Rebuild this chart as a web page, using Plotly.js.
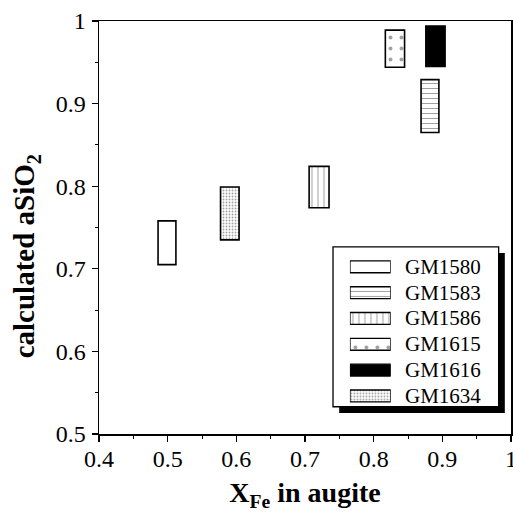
<!DOCTYPE html>
<html>
<head>
<meta charset="utf-8">
<script src="https://cdn.plot.ly/plotly-3.0.1.min.js"></script>
<style>html,body{margin:0;padding:0;background:#fff;}#chart{width:513px;height:512px;}</style>
</head>
<body>
<div id="chart"></div>
<script>
// Data (rectangle extents)
const samples = ['GM1580', 'GM1583', 'GM1586', 'GM1615', 'GM1616', 'GM1634'];
const xFeMin = [0.486, 0.869, 0.706, 0.817, 0.876, 0.577];
const xFeMax = [0.512, 0.895, 0.735, 0.845, 0.904, 0.604];
const aSiO2Min = [0.705, 0.865, 0.774, 0.944, 0.945, 0.735];
const aSiO2Max = [0.758, 0.929, 0.824, 0.989, 0.994, 0.799];
const xTicks = [0.4, 0.5, 0.6, 0.7, 0.8, 0.9, 1];
const yTicks = [0.5, 0.6, 0.7, 0.8, 0.9, 1];
const xTitle = 'X<sub>Fe</sub> in augite';
const yTitle = 'calculated aSiO<sub>2</sub>';

// Styles
const fillColors = ['white', 'white', 'white', 'white', 'black', 'white'];
const patShapes = ['', '-', '|', '.', '', '.'];
const patSizes = [8, 5, 6, 11, 8, 3];
const patSolid = [0.3, 0.2, 0.17, 0.1, 0.3, 0.3];
const patFg = ['black', '#222', '#222', 'black', 'black', '#999'];

const serif = '"Liberation Serif", "Times New Roman", serif';

const main = {
  type: 'bar',
  x: samples.map((s, i) => (xFeMin[i] + xFeMax[i]) / 2),
  width: samples.map((s, i) => xFeMax[i] - xFeMin[i]),
  base: aSiO2Min,
  y: samples.map((s, i) => aSiO2Max[i] - aSiO2Min[i]),
  textposition: 'none',
  marker: {
    color: fillColors,
    line: {color: 'black', width: 1.6},
    pattern: {shape: patShapes, size: patSizes, solidity: patSolid, fgcolor: patFg, bgcolor: 'white', fillmode: 'overlay'}
  },
  showlegend: false,
  hoverinfo: 'skip',
  xaxis: 'x', yaxis: 'y'
};

const swatches = {
  type: 'bar',
  orientation: 'h',
  y: samples,
  x: samples.map(() => 1),
  width: 0.46,
  textposition: 'none',
  marker: {
    color: fillColors,
    line: {color: 'black', width: 1.4},
    pattern: {shape: patShapes, size: patSizes, solidity: patSolid, fgcolor: patFg, bgcolor: 'white', fillmode: 'overlay'}
  },
  showlegend: false,
  hoverinfo: 'skip',
  xaxis: 'x2', yaxis: 'y2'
};

const annotations = samples.map(s => ({
  text: s, xref: 'paper', yref: 'y2', x: 0.738, y: s,
  xanchor: 'left', yanchor: 'middle', showarrow: false,
  font: {family: serif, size: 21, color: 'black'}
}));
annotations.push({
  text: yTitle, xref: 'paper', yref: 'paper', x: -0.175, y: 0.43,
  xanchor: 'center', yanchor: 'middle', textangle: -90, showarrow: false,
  font: {family: serif, size: 29, weight: 'bold', color: 'black'}
});

const axisCommon = {
  showline: true, mirror: true, linecolor: 'black', linewidth: 1.5,
  ticks: 'outside', ticklen: 6, tickwidth: 1.2, tickcolor: 'black',
  showgrid: false, zeroline: false,
  ticklabeloverflow: 'allow',
  minor: {dtick: 0.05, ticks: 'outside', ticklen: 3, tickwidth: 1, tickcolor: 'black', showgrid: false}
};

const layout = {
  width: 513, height: 512,
  margin: {l: 99, r: 2, t: 21, b: 78, pad: 0},
  font: {family: serif, size: 24, color: 'black'},
  paper_bgcolor: 'white', plot_bgcolor: 'rgba(0,0,0,0)',
  barmode: 'overlay',
  showlegend: false,
  xaxis: Object.assign({}, axisCommon, {
    range: [0.4, 1], tickvals: xTicks, ticktext: xTicks.map(String),
    tickfont: {family: serif, size: 24, color: 'black'},
    ticklabelstandoff: -3,
    title: {text: xTitle, font: {family: serif, size: 28, weight: 'bold', color: 'black'}, standoff: 11}
  }),
  yaxis: Object.assign({}, axisCommon, {
    range: [0.5, 1], tickvals: yTicks, ticktext: yTicks.map(String),
    tickfont: {family: serif, size: 24, color: 'black'},
    ticklabelstandoff: 1
  }),
  xaxis2: {domain: [0.609, 0.708], range: [0, 1], visible: false, fixedrange: true, anchor: 'y2'},
  yaxis2: {domain: [0.061, 0.436], range: [5.5, -0.5], type: 'category', visible: false, fixedrange: true, anchor: 'x2'},
  shapes: [
    {type: 'rect', xref: 'paper', yref: 'paper', x0: 0.583, x1: 0.985, y0: 0.051, y1: 0.438, fillcolor: 'black', line: {width: 0}, layer: 'below'},
    {type: 'rect', xref: 'paper', yref: 'paper', x0: 0.568, x1: 0.970, y0: 0.066, y1: 0.453, fillcolor: 'white', line: {color: 'black', width: 1.3}, layer: 'below'}
  ],
  annotations: annotations
};

Plotly.newPlot('chart', [main, swatches], layout, {staticPlot: true, displayModeBar: false});
</script>
</body>
</html>
